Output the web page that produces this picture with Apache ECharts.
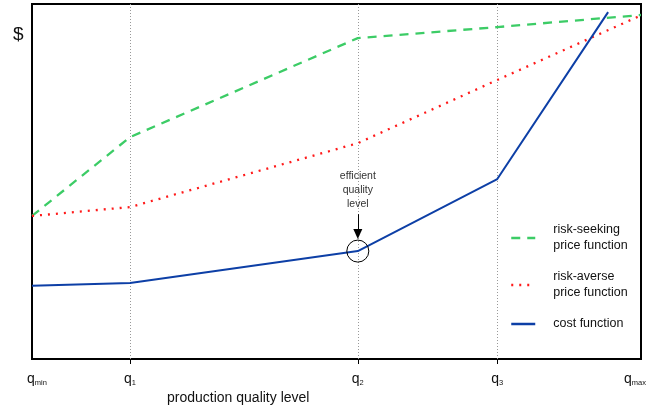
<!DOCTYPE html>
<html>
<head>
<meta charset="utf-8">
<script src="https://cdn.jsdelivr.net/npm/echarts@6/dist/echarts.min.js"></script>
<style>html,body{margin:0;padding:0;background:#fff}#c{width:670px;height:412px}</style>
</head>
<body>
<div id="c"></div>
<script>
// quality positions on x axis (qmin .. qmax)
const qNames = ['min', '1', '2', '3', 'max'];
const qPos = [0, 16.1, 53.5, 76.4, 100];
// risk-seeking price function
const seekingX = [0, 16.1, 53.5, 76.4, 100];
const seekingY = [40.3, 62.5, 90.4, 93.5, 96.9];
// risk-averse price function
const averseX = [0, 16.1, 53.5, 76.4, 100];
const averseY = [40.3, 42.8, 60.8, 78.6, 96.8];
// cost function
const costX = [0, 16.1, 53.5, 76.4, 94.6];
const costY = [20.6, 21.4, 30.4, 50.7, 97.7];
// efficient quality level (q2)
const efficientX = 53.5;
const efficientY = 30.4;

const zip = (xs, ys) => xs.map((x, i) => [x, ys[i]]);
const FONT = '"Liberation Sans", Arial, sans-serif';

const chart = echarts.init(document.getElementById('c'), null, {renderer: 'canvas'});
chart.setOption({
  animation: false,
  backgroundColor: '#fff',
  title: [
    {text: '$', left: 8, top: 20, textStyle: {fontFamily: FONT, fontSize: 19, fontWeight: 'normal', color: '#111'}},
    {text: 'production quality level', left: 162, top: 386, textStyle: {fontFamily: FONT, fontSize: 14, fontWeight: 'normal', color: '#111'}}
  ],
  grid: {left: 32, right: 29, top: 4, bottom: 53, show: true, borderColor: '#000', borderWidth: 2, backgroundColor: 'transparent'},
  legend: {
    orient: 'vertical', left: 505, top: 217, itemGap: 15, itemWidth: 24, itemHeight: 10,
    selectedMode: false,
    itemStyle: {opacity: 0, borderWidth: 0},
    lineStyle: {width: 2.5},
    textStyle: {fontFamily: FONT, fontSize: 12.5, color: '#111', lineHeight: 16, padding: [0, 0, 0, 13]},
    data: ['risk-seeking\nprice function', 'risk-averse\nprice function', 'cost function']
  },
  xAxis: {
    type: 'value', min: 0, max: 100,
    axisLine: {show: true, lineStyle: {color: '#000', width: 2}},
    axisTick: {show: true, customValues: qPos.slice(1, 4), length: 5, lineStyle: {color: '#000', width: 1}},
    splitLine: {show: false},
    axisLabel: {
      customValues: qPos, margin: 12,
      formatter: function (v) {
        const i = qPos.indexOf(v);
        const s = i >= 0 ? qNames[i] : '';
        if (i === 0) return '{qa|q}{s|' + s + '}';
        if (i === 4) return '{q|q}{sb|' + s + '}';
        return '{q|q}{s|' + s + '}';
      },
      rich: {
        q: {fontFamily: FONT, fontSize: 14, color: '#111', lineHeight: 16},
        qa: {fontFamily: FONT, fontSize: 14, color: '#111', lineHeight: 16, padding: [0, 0, 0, 10]},
        s: {fontFamily: FONT, fontSize: 7.5, color: '#111', lineHeight: 16, verticalAlign: 'bottom', padding: [3, 0, 0, 0]},
        sb: {fontFamily: FONT, fontSize: 7.5, color: '#111', lineHeight: 16, verticalAlign: 'bottom', padding: [3, 12, 0, 0]}
      }
    }
  },
  yAxis: {
    type: 'value', min: 0, max: 100,
    axisLine: {show: false}, axisTick: {show: false}, axisLabel: {show: false}, splitLine: {show: false}
  },
  series: [
    {
      name: 'risk-seeking\nprice function', type: 'line', data: zip(seekingX, seekingY),
      symbol: 'none', z: 3,
      lineStyle: {color: '#3ccc66', width: 2.3, type: [9, 7]},
      itemStyle: {color: '#3ccc66'},
      emphasis: {disabled: true},
      markLine: {
        silent: true, symbol: 'none', label: {show: false}, z: 1,
        lineStyle: {color: '#999', width: 1, type: [1, 2]},
        data: qPos.slice(1, 4).map(x => ({xAxis: x}))
      }
    },
    {
      name: 'risk-averse\nprice function', type: 'line', data: zip(averseX, averseY),
      symbol: 'none', z: 3,
      lineStyle: {color: '#ff1a1a', width: 2.3, type: [2, 6]},
      itemStyle: {color: '#ff1a1a'},
      emphasis: {disabled: true}
    },
    {
      name: 'cost function', type: 'line', data: zip(costX, costY),
      symbol: 'none', z: 4,
      lineStyle: {color: '#0d3fa6', width: 2, type: 'solid'},
      itemStyle: {color: '#0d3fa6'},
      emphasis: {disabled: true},
      markPoint: {
        silent: true,
        data: [
          {coord: [efficientX, efficientY], symbol: 'circle', symbolSize: 22,
           itemStyle: {color: 'rgba(0,0,0,0)', borderColor: '#000', borderWidth: 1, opacity: 1}, label: {show: false}},
          {coord: [efficientX, 47.6], symbol: 'circle', symbolSize: 0,
           itemStyle: {color: 'rgba(0,0,0,0)'},
           label: {show: true, position: 'inside', formatter: 'efficient\nquality\nlevel',
                   fontFamily: FONT, fontSize: 10.5, lineHeight: 14, color: '#333'}}
        ]
      },
      markLine: {
        silent: true, label: {show: false},
        lineStyle: {color: '#000', width: 1, type: 'solid'},
        data: [[
          {coord: [efficientX, 40.8], symbol: 'none'},
          {coord: [efficientX, 35.2], symbol: 'triangle', symbolSize: [9, 10]}
        ]]
      }
    }
  ]
});
</script>
</body>
</html>
